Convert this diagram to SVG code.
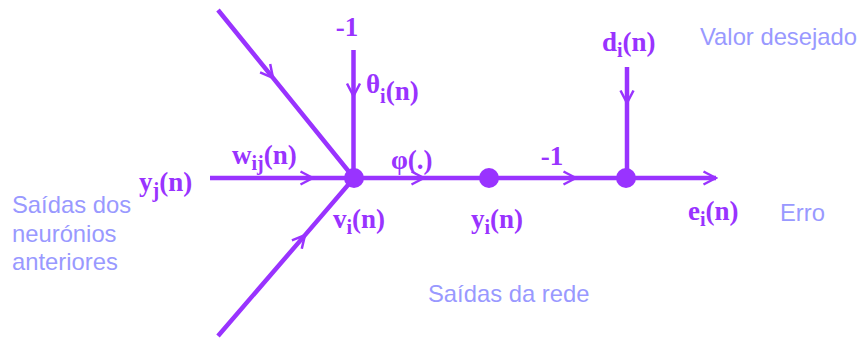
<svg xmlns="http://www.w3.org/2000/svg" width="861" height="340" viewBox="0 0 861 340">
<style>
.ln{stroke:#9933FF;stroke-width:4.5;fill:none;marker-mid:url(#arr)}
.nd{fill:#9933FF}
.lb{font-family:"Liberation Serif","Times New Roman",serif;font-weight:bold;font-size:27px;fill:#9933FF}
.sb{font-size:20px}
.gr{font-family:"Liberation Sans",Arial,sans-serif;font-size:23.8px;fill:#9999FF}
</style>
<defs>
<marker id="arr" markerUnits="userSpaceOnUse" viewBox="-14 -8 16 16" refX="0" refY="0" markerWidth="16" markerHeight="16" orient="auto">
<path d="M-12.5,-6.5 L0,0 L-12.5,6.5" fill="none" stroke="#9933FF" stroke-width="2.5" stroke-linejoin="miter"/>
</marker>
<marker id="arrEnd" markerUnits="userSpaceOnUse" viewBox="-14 -8 16 16" refX="0" refY="0" markerWidth="16" markerHeight="16" orient="auto">
<path d="M-12.5,-6.5 L0,0 L-12.5,6.5" fill="none" stroke="#9933FF" stroke-width="2.5"/>
</marker>
</defs>
<rect width="861" height="340" fill="#FFFFFF"/>
<g id="connectors">
<path class="ln" d="M218,10 L273,77.9 L354,178"/>
<path class="ln" d="M218,336 L305,235.1 L354,178"/>
<path class="ln" d="M353.5,50 L353.5,96 L353.5,178"/>
<path class="ln" d="M210,178 L313,178 L354,178"/>
<path class="ln" d="M354,178 L424,178 L489,178"/>
<path class="ln" d="M489,178 L576,178 L626,178"/>
<path class="ln" d="M626,178 L716,178" style="marker-mid:none;marker-end:url(#arrEnd)"/>
<path class="ln" d="M627,67 L627,103 L627,178"/>
</g>
<g id="node-vi">
<circle class="nd" cx="354" cy="178" r="10"/>
<text class="lb" x="333" y="228">v<tspan class="sb" dy="6">i</tspan><tspan dy="-6">(n)</tspan></text>
</g>
<g id="node-yi">
<circle class="nd" cx="489" cy="178" r="10"/>
<text class="lb" x="471" y="228">y<tspan class="sb" dy="6">i</tspan><tspan dy="-6">(n)</tspan></text>
</g>
<g id="node-ei">
<circle class="nd" cx="626" cy="178" r="10"/>
</g>
<g id="label-yj">
<text class="lb" x="139" y="191">y<tspan class="sb" dy="6">j</tspan><tspan dy="-6">(n)</tspan></text>
</g>
<g id="label-wij">
<text class="lb" x="232" y="164">w<tspan class="sb" dy="6">ij</tspan><tspan dy="-6">(n)</tspan></text>
</g>
<g id="label-bias">
<text class="lb" x="347" y="36" text-anchor="middle">-1</text>
<text class="lb" x="366" y="93">θ<tspan class="sb" dy="10">i</tspan><tspan dy="-3">(n)</tspan></text>
</g>
<g id="label-phi">
<text class="lb" x="391" y="169">φ(.)</text>
</g>
<g id="label-minus1">
<text class="lb" x="552" y="165" text-anchor="middle">-1</text>
</g>
<g id="label-di">
<text class="lb" x="602" y="51">d<tspan class="sb" dy="6">i</tspan><tspan dy="-6">(n)</tspan></text>
</g>
<g id="label-ei">
<text class="lb" x="688" y="220">e<tspan class="sb" dy="6">i</tspan><tspan dy="-6">(n)</tspan></text>
</g>
<text class="gr" x="700" y="45">Valor desejado</text>
<text class="gr" x="780" y="221">Erro</text>
<text class="gr" x="12" y="213">Saídas dos</text>
<text class="gr" x="12" y="242">neurónios</text>
<text class="gr" x="12" y="270">anteriores</text>
<text class="gr" x="428" y="302">Saídas da rede</text>
</svg>
